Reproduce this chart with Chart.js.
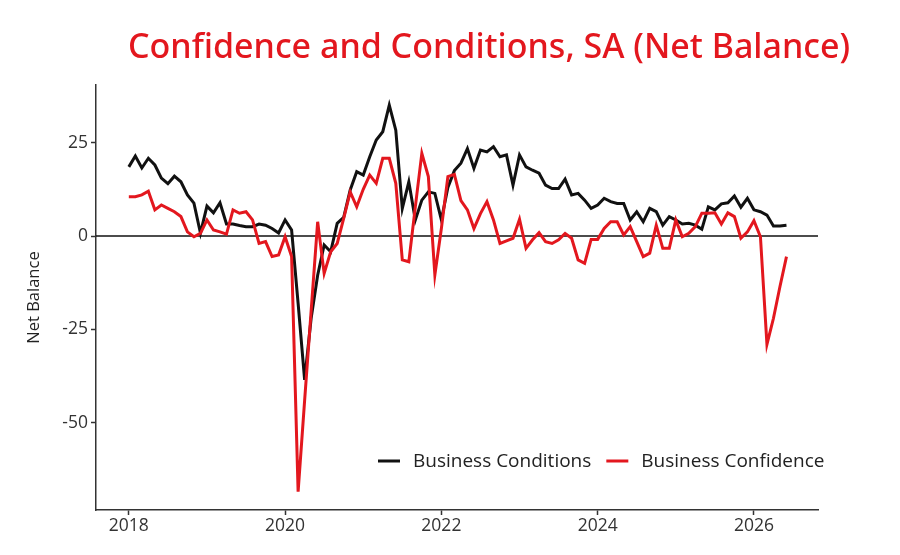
<!DOCTYPE html>
<html>
<head>
<meta charset="utf-8">
<script src="https://cdn.jsdelivr.net/npm/chart.js@4.4.1/dist/chart.umd.min.js"></script>
<style>
  html, body { margin: 0; padding: 0; background: #fff; }
  #wrap { position: relative; width: 900px; height: 555px; }
  #title {
    position: absolute; left: 128px; top: 24px;
    font-family: "Noto Sans", sans-serif; font-size: 34px; font-weight: 500;
    color: #e3171e; line-height: 42px; white-space: nowrap;
  }
  canvas { position: absolute; left: 0; top: 0; }
</style>
</head>
<body>
<div id="wrap">
  <canvas id="chart" width="900" height="555"></canvas>
  <div id="title">Confidence and Conditions, SA (Net Balance)</div>
</div>
<script>
/* --------- DATA (monthly, Jan 2018 - Jun 2026) --------- */
const firstYear = 2018;
const seriesNames = ["Business Conditions", "Business Confidence"];

const conditions = [
  18.5, 21.4, 18.2, 20.8, 19, 15.5, 14, 16, 14.5, 11, 8.8, 0.8,
  8, 6.2, 8.9, 3.2, 3.2, 2.8, 2.5, 2.5, 3.2, 2.9, 2, 0.8,
  4.3, 1.6, -18, -38.5, -22, -10.5, -2.4, -4.2, 3.4, 5, 12.3, 17.2,
  16.3, 21.2, 25.7, 27.9, 35, 28.3, 7.4, 14.5, 4.3, 9.6, 11.8, 11.4,
  4.3, 13, 17.5, 19.5, 23.4, 18.1, 23, 22.5, 23.9, 21.2, 21.7, 13.6,
  21.7, 18.5, 17.6, 16.8, 13.6, 12.7, 12.7, 15.2, 11, 11.4, 9.6, 7.4,
  8.3, 10.1, 9.2, 8.7, 8.7, 4.3, 6.5, 3.8, 7.4, 6.5, 2.9, 5.2,
  4.3, 3.2, 3.4, 2.9, 1.8, 7.8, 7, 8.6, 8.9, 10.7, 7.7, 10.1,
  7, 6.5, 5.6, 2.7, 2.7, 2.9
];

const confidence = [
  10.5, 10.5, 11, 12, 7, 8.3, 7.4, 6.5, 5.2, 1.1, -0.2, 0.7,
  4.3, 1.6, 1.1, 0.5, 7, 6.1, 6.5, 4.3, -2, -1.5, -5.5, -5.1,
  -0.2, -5.5, -68.4, -44, -20, 3.8, -10, -4.2, -2, 4.7, 11.8, 7.8,
  12.5, 16.3, 14.1, 20.8, 20.8, 14.1, -6.4, -6.9, 7.8, 22.1, 15.9, -10.4,
  2, 15.9, 16.5, 9.5, 7, 2, 6, 9.2, 4.3, -2, -1.3, -0.6,
  4.5, -3.3, -1, 0.9, -1.5, -2, -1, 0.7, -0.6, -6.4, -7.3, -0.9,
  -0.9, 2, 3.8, 3.8, 0.3, 2.5, -1.5, -5.5, -4.6, 2.9, -3.3, -3.3,
  4.3, -0.2, 0.7, 2.5, 6.1, 6.1, 6.2, 3.2, 6.2, 5.2, -0.6, 1.1,
  4.1, -0.2, -29, -22, -13.5, -5.5
];

const xTicks = [2018, 2020, 2022, 2024, 2026];
const yTicks = [-50, -25, 0, 25];

/* --------- HELPERS --------- */
// month index -> decimal year
function toPoints(values) {
  return values.map((v, i) => ({ x: firstYear + i / 12, y: v }));
}

const tickFont = { family: "'Open Sans', sans-serif", size: 17.5 };
const axisColor = "#333";

/* --------- PLUGINS --------- */
const zeroLine = {
  id: "zeroLine",
  beforeDatasetsDraw(chart) {
    const { ctx, chartArea, scales } = chart;
    const y = scales.y.getPixelForValue(0);
    ctx.save();
    ctx.strokeStyle = "#111";
    ctx.lineWidth = 1.6;
    ctx.beginPath();
    ctx.moveTo(chartArea.left, y);
    ctx.lineTo(chartArea.right, y);
    ctx.stroke();
    ctx.restore();
  }
};

const insideLegend = {
  id: "insideLegend",
  afterDraw(chart) {
    const { ctx } = chart;
    let x = 378;
    const y = 461;
    ctx.save();
    ctx.font = "19px 'Open Sans', sans-serif";
    ctx.textBaseline = "middle";
    chart.data.datasets.forEach(ds => {
      ctx.strokeStyle = ds.borderColor;
      ctx.lineWidth = 3;
      ctx.beginPath();
      ctx.moveTo(x, y);
      ctx.lineTo(x + 22, y);
      ctx.stroke();
      x += 35;
      ctx.fillStyle = "#222";
      ctx.fillText(ds.label, x, y + 1);
      x += ctx.measureText(ds.label).width + 15;
    });
    ctx.restore();
  }
};

/* --------- CHART --------- */
new Chart(document.getElementById("chart"), {
  type: "line",
  data: {
    datasets: [
      {
        label: seriesNames[0],
        data: toPoints(conditions),
        borderColor: "#111111",
        borderWidth: 3,
        pointRadius: 0,
        tension: 0,
        order: 1
      },
      {
        label: seriesNames[1],
        data: toPoints(confidence),
        borderColor: "#e3171e",
        borderWidth: 3,
        pointRadius: 0,
        tension: 0,
        order: 0
      }
    ]
  },
  options: {
    responsive: false,
    animation: false,
    layout: { padding: { top: 85, right: 82, left: 0, bottom: 0 } },
    plugins: { legend: { display: false }, tooltip: { enabled: false } },
    scales: {
      x: {
        type: "linear",
        min: 2017.58,
        max: 2026.82,
        afterBuildTicks: s => { s.ticks = xTicks.map(v => ({ value: v })); },
        afterFit: s => { s.height = 45; },
        grid: { drawOnChartArea: false, tickLength: 5, color: axisColor, tickWidth: 1.5 },
        border: { color: axisColor, width: 1.5 },
        ticks: { color: axisColor, font: tickFont, padding: 1, maxRotation: 0, callback: v => String(v) }
      },
      y: {
        min: -73.3,
        max: 40.4,
        afterBuildTicks: s => { s.ticks = yTicks.map(v => ({ value: v })); },
        afterFit: s => { s.width = 96; },
        grid: { drawOnChartArea: false, tickLength: 5, color: axisColor, tickWidth: 1.5 },
        border: { color: axisColor, width: 1.5 },
        ticks: { color: axisColor, font: tickFont, padding: 3, callback: v => String(v) },
        title: {
          display: true,
          text: "Net Balance",
          color: "#222",
          font: { family: "'Open Sans', sans-serif", size: 16.5 },
          padding: { top: 24, bottom: 0 }
        }
      }
    }
  },
  plugins: [zeroLine, insideLegend]
});
</script>
</body>
</html>
